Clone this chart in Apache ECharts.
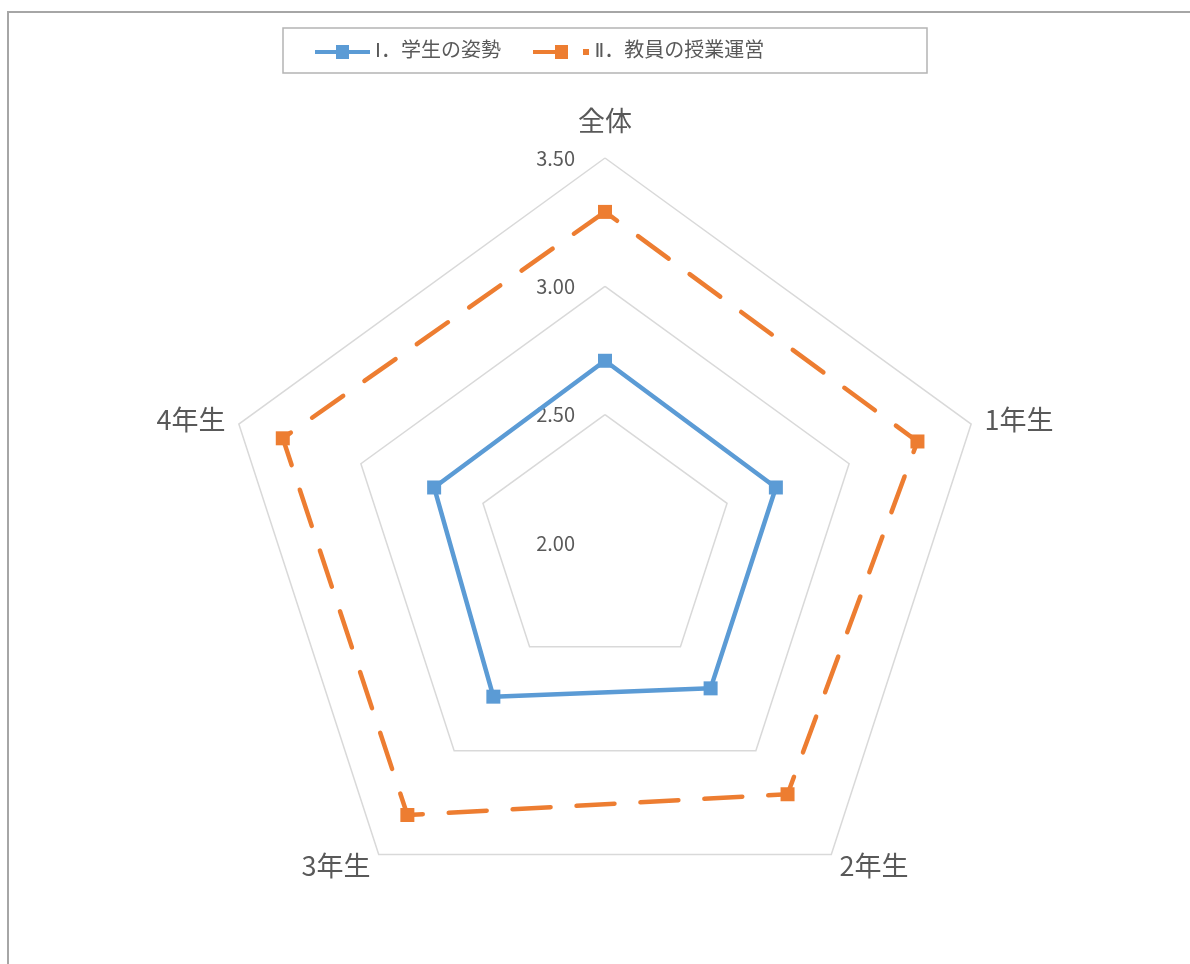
<!DOCTYPE html>
<html>
<head>
<meta charset="utf-8">
<title>radar</title>
<script src="https://cdn.jsdelivr.net/npm/echarts@6/dist/echarts.min.js"></script>
<style>
    html, body { margin: 0; padding: 0; background: #ffffff; overflow: hidden; }
    #show_charts { width: 1190px; height: 964px; }
</style>
</head>
<body>
<div id="show_charts"></div>
<script>
// 軸の並び（ECharts のレーダーは反時計回りなので 全体→4年生→3年生→2年生→1年生）
var axisNames = ['全体', '4年生', '3年生', '2年生', '1年生'];
var seriesNames = ['Ⅰ．学生の姿勢', 'Ⅱ．教員の授業運営'];
var gakusei = [2.71, 2.70, 2.74, 2.70, 2.70];
var kyoin = [3.29, 3.32, 3.31, 3.21, 3.28];
var axisMin = 2.0;
var axisMax = 3.5;

var textColor = '#595959';
var blue = '#5b9bd5';
var orange = '#ed7d31';
var fontName = '"Noto Sans CJK JP", "Noto Sans", sans-serif';
// 凡例のローマ数字は幅の狭い字形にする
var legendFont = '"DejaVu Sans", "Noto Sans CJK JP", sans-serif';

var indicator = [];
for (var i = 0; i < axisNames.length; i++) {
    var ind = { name: axisNames[i], min: axisMin, max: axisMax };
    if (i === 0) {
        ind.axisLabel = {
            show: true,
            color: textColor,
            fontSize: 20,
            fontFamily: fontName,
            margin: 30,
            formatter: function (v) { return Number(v).toFixed(2); }
        };
    } else {
        ind.axisLabel = { show: false };
    }
    indicator.push(ind);
}

var myChart = echarts.init(document.getElementById('show_charts'));
var option = {
    animation: false,
    backgroundColor: '#ffffff',
    graphic: [
        {
            type: 'rect',
            shape: { x: 8, y: 12, width: 1300, height: 1100 },
            style: { fill: null, stroke: '#a6a6a6', lineWidth: 2 },
            silent: true
        },
        {
            type: 'rect',
            shape: { x: 283, y: 28, width: 644, height: 45 },
            style: { fill: null, stroke: '#b4b4b4', lineWidth: 1.5 },
            silent: true
        }
    ],
    legend: [
        {
            data: [seriesNames[0]],
            left: 315,
            top: 41,
            padding: 0,
            itemWidth: 55,
            itemHeight: 14,
            itemGap: 0,
            itemTextGap: 14,
            icon: 'path://M0,5H21V0H34V5H55V9H34V14H21V9H0Z',
            itemStyle: { borderWidth: 0 },
            textStyle: { color: textColor, fontSize: 20, lineHeight: 22, fontFamily: legendFont }
        },
        {
            data: [seriesNames[1]],
            left: 533,
            top: 41,
            padding: 0,
            itemWidth: 57,
            itemHeight: 14,
            itemGap: 0,
            itemTextGap: 9,
            icon: 'path://M0,5H22V0H35V14H22V9H0Z M50,4H56V10H50Z',
            itemStyle: { borderWidth: 0 },
            textStyle: { color: textColor, fontSize: 20, lineHeight: 22, fontFamily: legendFont }
        }
    ],
    radar: {
        center: [605, 543],
        radius: 385,
        shape: 'polygon',
        splitNumber: 3,
        indicator: indicator,
        axisName: {
            color: textColor,
            fontSize: 27,
            fontFamily: fontName,
            formatter: function (name) {
                if (name === '全体') return '{t|' + name + '}';
                return name;
            },
            rich: {
                t: { fontSize: 27, color: textColor, fontFamily: fontName, padding: [0, 0, 10, 0] }
            }
        },
        nameGap: 14,
        splitArea: { show: false },
        splitLine: { lineStyle: { color: '#d9d9d9', width: 1.5 } },
        axisLine: { show: false },
        axisTick: { show: false }
    },
    series: [
        {
            type: 'radar',
            data: [
                {
                    name: seriesNames[0],
                    value: gakusei,
                    symbol: 'rect',
                    symbolSize: 14,
                    itemStyle: { color: blue },
                    lineStyle: { color: blue, width: 4.5 }
                },
                {
                    name: seriesNames[1],
                    value: kyoin,
                    symbol: 'rect',
                    symbolSize: 14,
                    itemStyle: { color: orange },
                    lineStyle: { color: orange, width: 4.5, type: [38, 26], cap: 'round' }
                }
            ]
        }
    ]
};
myChart.setOption(option);
</script>
</body>
</html>
